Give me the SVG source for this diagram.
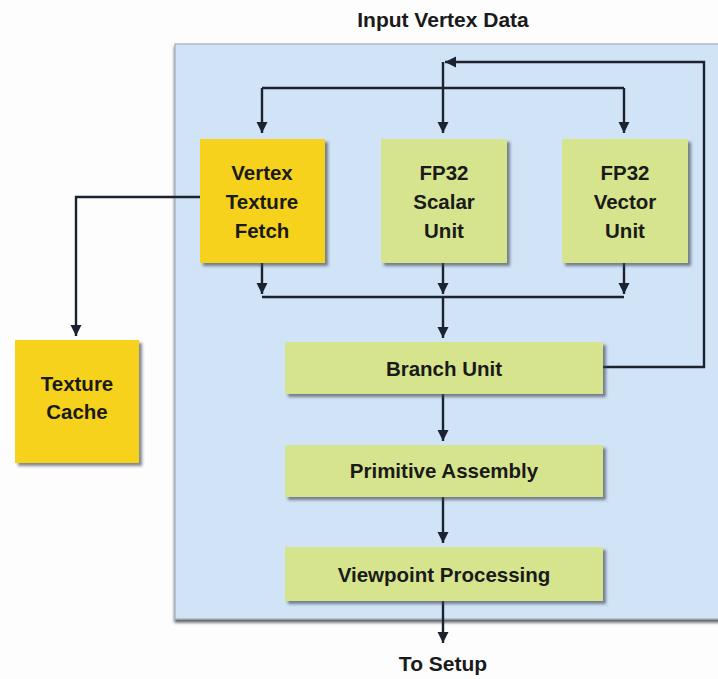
<svg xmlns="http://www.w3.org/2000/svg" width="718" height="679" viewBox="0 0 718 679">
  <defs>
    <filter id="boxShadow" x="-10%" y="-10%" width="130%" height="130%">
      <feDropShadow dx="3" dy="3" stdDeviation="1.8" flood-color="#3c4650" flood-opacity="0.65"/>
    </filter>
    <filter id="panelShadow" x="-5%" y="-5%" width="110%" height="110%">
      <feDropShadow dx="0" dy="3" stdDeviation="1.5" flood-color="#2a2f35" flood-opacity="0.75"/>
    </filter>
    <marker id="arrow" viewBox="0 0 10 10" refX="10" refY="5" markerUnits="userSpaceOnUse" markerWidth="11" markerHeight="13" orient="auto">
      <path d="M0,0 L10,5 L0,10 Z" fill="#1b2330"/>
    </marker>
    <style>
      .label { font-family: "Liberation Sans", Arial, sans-serif; font-weight: bold; font-size: 20.5px; fill: #1a1a1a; text-anchor: middle; }
      .outer { font-size: 21px; }
      .yellow { fill: #F6D21F; filter: url(#boxShadow); }
      .green { fill: #D5E48D; filter: url(#boxShadow); }
      .wire { fill: none; stroke: #1b2330; stroke-width: 2.4; }
      .wire-arrow { fill: none; stroke: #1b2330; stroke-width: 2.4; marker-end: url(#arrow); }
    </style>
  </defs>

  <rect width="718" height="679" fill="#fdfdfd"/>

  <!-- vertex processor enclosure -->
  <g id="panel">
    <rect x="175" y="44" width="560" height="575" fill="#D1E3F6" stroke="#a3adb7" stroke-width="1.2" filter="url(#panelShadow)"/>
  </g>

  <text class="label outer" x="443" y="27">Input Vertex Data</text>
  <text class="label outer" x="443" y="671">To Setup</text>

  <!-- connectors -->
  <g id="connectors">
    <!-- feedback from branch unit -->
    <path class="wire-arrow" d="M603,367 H704 V62 H445"/>
    <!-- dispatch to the three units -->
    <path class="wire-arrow" d="M443,62 V133"/>
    <path class="wire" d="M262,88 H624"/>
    <path class="wire-arrow" d="M262,88 V133"/>
    <path class="wire-arrow" d="M624,88 V133"/>
    <!-- results merge into branch unit -->
    <path class="wire-arrow" d="M262,263 V294"/>
    <path class="wire-arrow" d="M443,263 V294"/>
    <path class="wire-arrow" d="M624,263 V294"/>
    <path class="wire" d="M262,297 H624"/>
    <path class="wire-arrow" d="M443,297 V338"/>
    <!-- pipeline down -->
    <path class="wire-arrow" d="M443,394 V441"/>
    <path class="wire-arrow" d="M443,497 V543"/>
    <path class="wire-arrow" d="M443,601 V643"/>
    <!-- texture fetch to cache -->
    <path class="wire-arrow" d="M200,197 H76 V336"/>
  </g>

  <g id="vertex-texture-fetch">
    <rect class="yellow" x="200" y="139" width="125" height="124"/>
    <text class="label" x="262" y="180">Vertex</text>
    <text class="label" x="262" y="209">Texture</text>
    <text class="label" x="262" y="238">Fetch</text>
  </g>

  <g id="fp32-scalar-unit">
    <rect class="green" x="381" y="139" width="126" height="124"/>
    <text class="label" x="444" y="180">FP32</text>
    <text class="label" x="444" y="209">Scalar</text>
    <text class="label" x="444" y="238">Unit</text>
  </g>

  <g id="fp32-vector-unit">
    <rect class="green" x="562" y="139" width="126" height="124"/>
    <text class="label" x="625" y="180">FP32</text>
    <text class="label" x="625" y="209">Vector</text>
    <text class="label" x="625" y="238">Unit</text>
  </g>

  <g id="texture-cache">
    <rect class="yellow" x="15" y="340" width="124" height="123"/>
    <text class="label" x="77" y="391">Texture</text>
    <text class="label" x="77" y="419">Cache</text>
  </g>

  <g id="branch-unit">
    <rect class="green" x="285" y="342" width="318" height="52"/>
    <text class="label" x="444" y="376">Branch Unit</text>
  </g>

  <g id="primitive-assembly">
    <rect class="green" x="285" y="445" width="318" height="52"/>
    <text class="label" x="444" y="478">Primitive Assembly</text>
  </g>

  <g id="viewpoint-processing">
    <rect class="green" x="285" y="547" width="318" height="54"/>
    <text class="label" x="444" y="582">Viewpoint Processing</text>
  </g>
</svg>
